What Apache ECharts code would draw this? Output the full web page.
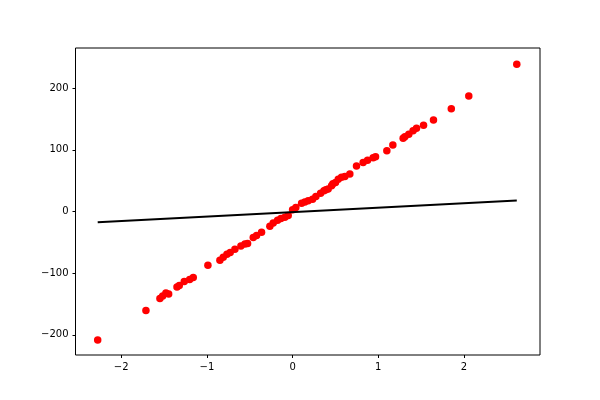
<!DOCTYPE html>
<html>
<head>
<meta charset="utf-8">
<script src="https://cdn.jsdelivr.net/npm/echarts@6/dist/echarts.min.js"></script>
<style>
  html, body { margin: 0; padding: 0; background: #fff; }
  #chart { width: 600px; height: 400px; }
</style>
</head>
<body>
<div id="chart"></div>
<script>
// red scatter points
const pointX = [-2.274, -1.711, -1.548, -1.516, -1.478, -1.446, -1.349, -1.322, -1.264, -1.201,
  -1.159, -0.988, -0.848, -0.809, -0.766, -0.728, -0.673, -0.603, -0.556, -0.525,
  -0.459, -0.420, -0.362, -0.265, -0.226, -0.175, -0.136, -0.090, -0.051, 0.000,
  0.038, 0.105, 0.143, 0.182, 0.233, 0.272, 0.327, 0.366, 0.388, 0.415,
  0.455, 0.470, 0.501, 0.533, 0.571, 0.610, 0.668, 0.746, 0.823, 0.875,
  0.940, 0.968, 1.100, 1.170, 1.290, 1.310, 1.356, 1.406, 1.446, 1.528,
  1.644, 1.852, 2.056, 2.616];
const pointY = [-208.4, -160.5, -141.1, -137.2, -132.3, -133.9, -122.6, -120.0, -113.5, -110.3,
  -107.0, -87.1, -79.0, -74.1, -69.3, -66.7, -61.2, -55.9, -52.6, -52.1,
  -42.4, -39.0, -33.5, -23.8, -18.9, -14.1, -11.5, -9.2, -6.6, 2.6,
  6.3, 13.4, 15.4, 17.2, 19.9, 24.1, 29.6, 33.4, 35.3, 36.6,
  41.5, 44.9, 46.8, 52.3, 55.5, 56.5, 60.9, 73.8, 79.2, 83.1,
  87.1, 88.9, 98.6, 107.9, 118.7, 121.3, 125.2, 131.0, 134.9, 139.8,
  148.3, 166.5, 187.2, 238.7];

// black fitted line
const lineX = [-2.274, 2.616];
const lineY = [-17.3, 17.7];

const xTicks = [-2, -1, 0, 1, 2];
const yTicks = [-200, -100, 0, 100, 200];

const chart = echarts.init(document.getElementById('chart'));

const axisFont = { fontFamily: 'DejaVu Sans', fontSize: 10, color: '#000' };

chart.setOption({
  animation: false,
  backgroundColor: '#fff',
  grid: {
    left: 75.5, right: 60, top: 48, bottom: 45,
    show: true, borderColor: '#000', borderWidth: 1, backgroundColor: '#fff'
  },
  xAxis: {
    type: 'value',
    min: -2.533, max: 2.887,
    splitLine: { show: false },
    axisLine: { show: false, onZero: false },
    axisTick: { show: true, length: 3, lineStyle: { color: '#000' }, customValues: xTicks },
    axisLabel: Object.assign({ margin: 7, customValues: xTicks,
      formatter: v => String(v).replace('-', '\u2212') }, axisFont)
  },
  yAxis: {
    type: 'value',
    min: -232.7, max: 265,
    splitLine: { show: false },
    axisLine: { show: false, onZero: false },
    axisTick: { show: true, length: 3, lineStyle: { color: '#000' }, customValues: yTicks },
    axisLabel: Object.assign({ margin: 7, customValues: yTicks,
      formatter: v => String(v).replace('-', '\u2212') }, axisFont)
  },
  series: [
    {
      type: 'scatter',
      data: pointX.map((x, i) => [x, pointY[i]]),
      symbolSize: 7.5,
      itemStyle: { color: '#ff0000', opacity: 1 },
      z: 2
    },
    {
      type: 'line',
      data: lineX.map((x, i) => [x, lineY[i]]),
      showSymbol: false,
      lineStyle: { color: '#000', width: 2 },
      z: 3
    }
  ]
});
</script>
</body>
</html>
